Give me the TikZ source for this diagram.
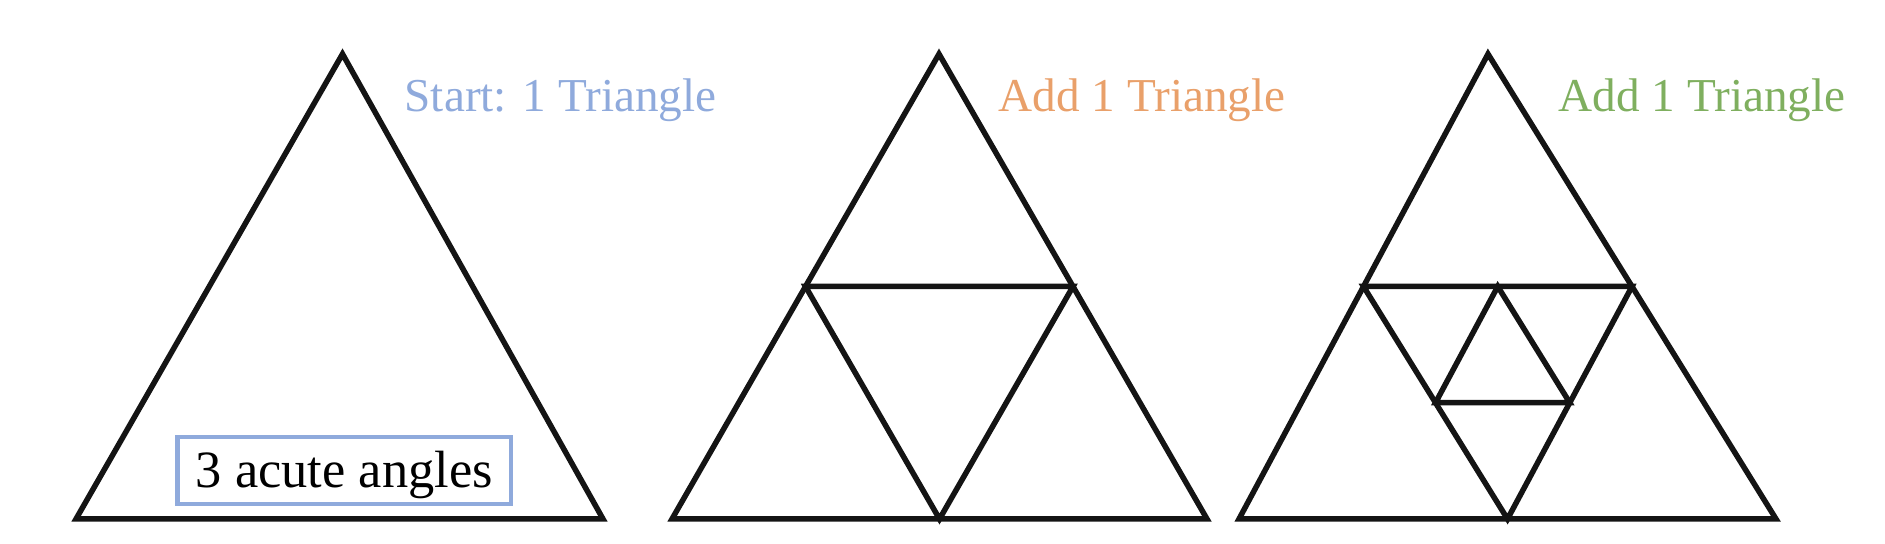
\documentclass[tikz,border=0pt]{standalone}
\usepackage{fontspec}
\setmainfont{Liberation Serif}
\usetikzlibrary{calc}

\definecolor{startblue}{HTML}{8FAADC}
\definecolor{addorange}{HTML}{E9A06A}
\definecolor{addgreen}{HTML}{7FAF5F}

\begin{document}
\begin{tikzpicture}[
            x = 0.5pt, y = -0.5pt, % one unit per pixel
            line width = 2.75pt, % line style
            line join = miter
        ]

        \tikzstyle{tri}=[
            draw = black!92
        ]
        \tikzstyle{title}=[
            anchor = base west,
            inner sep = 0pt,
            font = \fontsize{23.6pt}{28pt}\selectfont
        ]
        \tikzstyle{note}=[
            draw = startblue,
            line width = 2.25pt,
            minimum width = 166.75pt,
            minimum height = 33.5pt,
            text height = 21pt,
            text depth = 3.5pt,
            font = \fontsize{26.2pt}{30pt}\selectfont
        ]

	\useasboundingbox (0,0) rectangle (1885,544);

	% start triangle
	\coordinate (a1) at (342.5,54);
	\coordinate (l1) at (76,519);
	\coordinate (r1) at (603,519);
	\draw[tri] (a1) -- (l1) -- (r1) -- cycle;
	\node[title, text = startblue] (s1) at (402,112) {Start: 1 Triangle};
	\node[note] (n1) at (344.25,470.5) {3 acute angles};

	% second triangle
	\coordinate (a2) at (939,54);
	\coordinate (l2) at (672,519);
	\coordinate (r2) at (1207,519);
	\coordinate (p2) at ($(a2)!0.5!(l2)$);
	\coordinate (q2) at ($(a2)!0.5!(r2)$);
	\coordinate (m2) at ($(l2)!0.5!(r2)$);
	\draw[tri] (a2) -- (l2) -- (r2) -- cycle;
	\draw[tri] (p2) -- (q2) -- (m2) -- cycle;
	\node[title, text = addorange] (s2) at (996,112) {Add 1 Triangle};

	% third triangle
	\coordinate (a3) at (1488,54);
	\coordinate (l3) at (1239,519);
	\coordinate (r3) at (1776,519);
	\coordinate (p3) at ($(a3)!0.5!(l3)$);
	\coordinate (q3) at ($(a3)!0.5!(r3)$);
	\coordinate (m3) at ($(l3)!0.5!(r3)$);
	\coordinate (u3) at ($(p3)!0.5!(q3)$);
	\coordinate (v3) at ($(p3)!0.5!(m3)$);
	\coordinate (w3) at ($(q3)!0.5!(m3)$);
	\draw[tri] (a3) -- (l3) -- (r3) -- cycle;
	\draw[tri] (p3) -- (q3) -- (m3) -- cycle;
	\draw[tri] (u3) -- (v3) -- (w3) -- cycle;
	\node[title, text = addgreen] (s3) at (1556,112) {Add 1 Triangle};

    \end{tikzpicture}
\end{document}
